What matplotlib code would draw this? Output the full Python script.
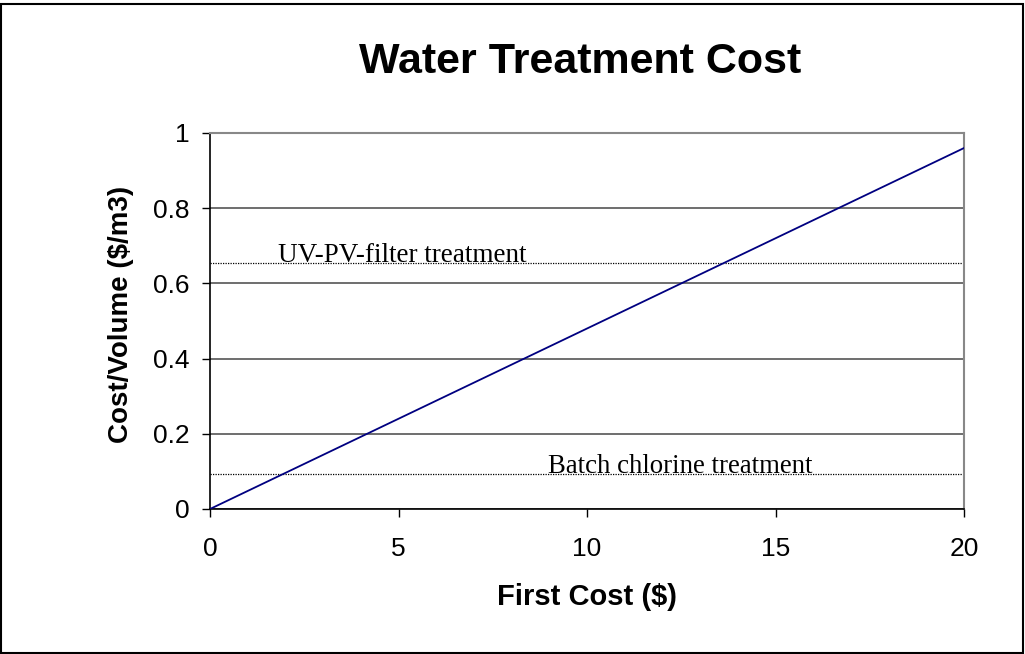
import matplotlib
matplotlib.use("Agg")
import matplotlib.pyplot as plt
from matplotlib.patches import Rectangle

first_cost = [0, 20]
cost_per_volume = [0, 0.96]
uv_level = 0.655
batch_level = 0.093
uv_label = "UV-PV-filter treatment"
batch_label = "Batch chlorine treatment"
x_ticks = [0, 5, 10, 15, 20]
y_ticks = [0, 0.2, 0.4, 0.6, 0.8, 1]
y_tick_labels = ["0", "0.2", "0.4", "0.6", "0.8", "1"]

plt.rcParams['font.family'] = ['Liberation Sans', 'DejaVu Sans']

fig = plt.figure(figsize=(10.25, 6.54), dpi=100)
fig.patches.append(Rectangle((0.001, 0.002), 0.997, 0.992, transform=fig.transFigure,
                             fill=False, edgecolor='black', linewidth=1.5))
ax = fig.add_axes([210/1025, 1-509/654, (964-210)/1025, (509-133)/654])

ax.plot(first_cost, cost_per_volume, color='#000080', linewidth=1.3, zorder=3)
ax.axhline(uv_level, color='black', linestyle=(0, (1, 1)), linewidth=0.9)
ax.axhline(batch_level, color='black', linestyle=(0, (1, 1)), linewidth=0.9)
ax.text(1.8, uv_level + 0.002, uv_label, family=['Liberation Serif'], fontsize=19.5, va='baseline')
ax.text(8.97, batch_level + 0.002, batch_label, family=['Liberation Serif'], fontsize=19.3, va='baseline')

ax.set_xlim(0, 20)
ax.set_ylim(0, 1)
ax.set_xticks(x_ticks)
ax.set_yticks(y_ticks)
ax.set_yticklabels(y_tick_labels)
ax.yaxis.grid(True, color='#555555', linewidth=1.2)
ax.set_axisbelow(True)
for s in ['top', 'right']:
    ax.spines[s].set_color('#888888')
    ax.spines[s].set_linewidth(1.5)
for s in ['left', 'bottom']:
    ax.spines[s].set_color('black')
    ax.spines[s].set_linewidth(1.2)
ax.tick_params(direction='out', length=6, width=1, labelsize=19, colors='black')
ax.tick_params(axis='y', pad=9)
ax.tick_params(axis='x', pad=14)

ax.set_xlabel("First Cost ($)", fontsize=21, fontweight='bold', labelpad=16)
ax.set_ylabel("Cost/Volume ($/m3)", fontsize=20, fontweight='bold')
ax.yaxis.set_label_coords(-0.101, 0.517)
fig.text(580/1025, 1-62/654, "Water Treatment Cost", ha='center', va='center',
         fontsize=31, fontweight='bold')

fig.savefig("out.png", dpi=100)
